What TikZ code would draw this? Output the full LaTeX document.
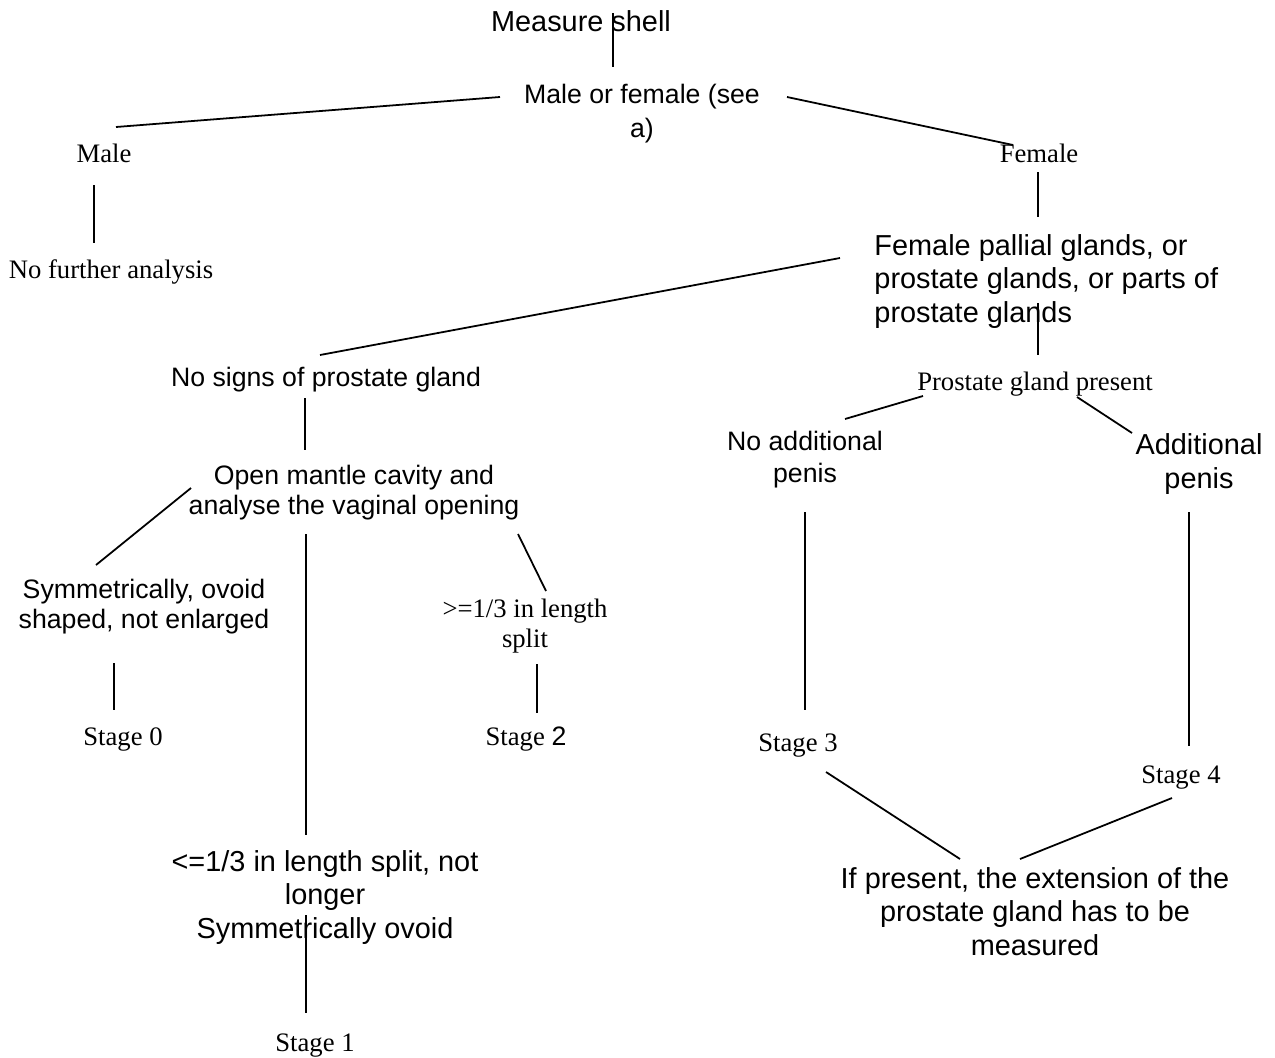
\documentclass[tikz,border=0pt]{standalone}
\usepackage{fontspec}
\setmainfont{Liberation Serif}
\setsansfont{Liberation Sans}
\tikzset{
  rmtext/.style={font=\rmfamily\fontsize{12}{#1}\selectfont,inner sep=0pt,align=center,anchor=base},
  rmtext/.default=13.5,
  sfsmall/.style={font=\sffamily\fontsize{12}{#1}\selectfont,inner sep=0pt,align=center,anchor=base},
  sfsmall/.default=13.5,
  sflarge/.style={font=\sffamily\fontsize{13}{#1}\selectfont,inner sep=0pt,align=center,anchor=base},
  sflarge/.default=15,
  link/.style={line width=0.8pt}
}
\begin{document}
\begin{tikzpicture}[x=0.45pt,y=-0.45pt]
\useasboundingbox(0,0)rectangle(1275,1057);
% top of the tree (multi-line nodes sit on their last baseline)
\node[sflarge](msh)at(581,32){Measure shell};
\node[sfsmall=15.3](mof)at(642,137){Male or female (see\\a)};
\node[rmtext](male)at(104,162){Male};
\node[rmtext](fem)at(1039,162){Female};
\node[rmtext](nfa)at(111,278){No further analysis};
\node[sflarge,align=left,anchor=base west](fpg)at(874,322){Female pallial glands, or\\prostate glands, or parts of\\prostate glands};
% left branch
\node[sfsmall](nsp)at(326,386){No signs of prostate gland};
\node[sfsmall](omc)at(354,514){Open mantle cavity and\\analyse the vaginal opening};
\node[sfsmall](sym)at(144,628){Symmetrically, ovoid\\shaped, not enlarged};
\node[rmtext](gesplit)at(525,647){>=1/3 in length\\split};
\node[rmtext](st0)at(123,745){Stage 0};
\node[rmtext](st2)at(526,745){Stage {\sffamily 2}};
\node[sflarge=14.9](lesplit)at(325,938){<=1/3 in length split, not\\longer\\Symmetrically ovoid};
\node[rmtext](st1)at(315,1051){Stage 1};
% right branch
\node[rmtext](pgp)at(1035,390){Prostate gland present};
\node[sfsmall=14](nap)at(805,482){No additional\\penis};
\node[sflarge=14.9](adp)at(1199,488){Additional\\penis};
\node[rmtext](st3)at(798,751){Stage 3};
\node[rmtext](st4)at(1181,783){Stage 4};
\node[sflarge=14.9](ifp)at(1035,955){If present, the extension of the\\prostate gland has to be\\measured};
% line ends
\foreach \cn/\cx/\cy in {ms1/613/13,ms2/613/67,mf1/500/97,ml1/116/127,mf2/787/97,fm1/1013/145,
  ml2/94/185,ml3/94/243,fm2/1038/172,fm3/1038/217,fp1/840/258,ns1/320/355,fp2/1038/303,fp3/1038/355,
  pp1/923/396,na1/845/419,pp2/1077/397,ad1/1132/433,ns2/305/398,ns3/305/450,
  om1/191/488,sy1/96/565,om2/306/534,le1/306/835,om3/518/534,ge1/546/591,
  sy2/114/663,sy3/114/710,ge2/537/664,ge3/537/713,le2/306/915,le3/306/1013,
  na2/805/512,na3/805/710,ad2/1189/512,ad3/1189/746,s31/826/772,ip1/960/859,s41/1172/798,ip2/1020/859}
  {\coordinate(\cn)at(\cx,\cy);}
\foreach \ca/\cb in {ms1/ms2,mf1/ml1,mf2/fm1,ml2/ml3,fm2/fm3,fp1/ns1,fp2/fp3,pp1/na1,pp2/ad1,ns2/ns3,
  om1/sy1,om2/le1,om3/ge1,sy2/sy3,ge2/ge3,le2/le3,na2/na3,ad2/ad3,s31/ip1,s41/ip2}
  {\draw[link](\ca)--(\cb);}
\end{tikzpicture}
\end{document}
